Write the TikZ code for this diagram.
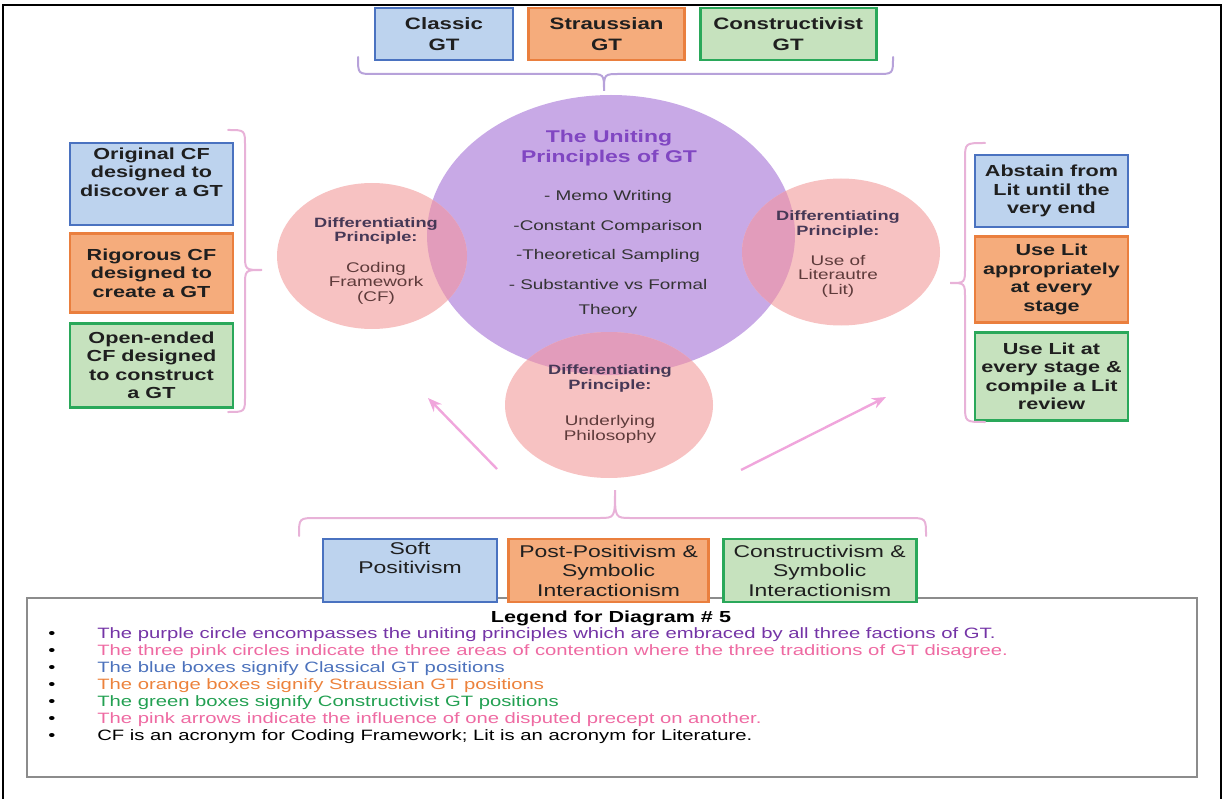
\documentclass[tikz,border=0pt]{standalone}
\usepackage{fontspec}
\setmainfont{Liberation Sans}[FakeStretch=1.35]
\usepackage{tikz}
\usetikzlibrary{shapes,arrows,arrows.meta}
\usetikzlibrary{positioning,calc}

\definecolor{blueFill}{HTML}{BDD3EE}
\definecolor{blueLine}{HTML}{4A72C0}
\definecolor{orangeFill}{HTML}{F5AC7C}
\definecolor{orangeLine}{HTML}{EA7F3E}
\definecolor{greenFill}{HTML}{C6E2BE}
\definecolor{greenLine}{HTML}{2AA85A}
\definecolor{uniteFill}{HTML}{C8A9E6}
\definecolor{diffFill}{HTML}{F7C2C2}
\definecolor{overlapFill}{HTML}{E29CBB}
\definecolor{uniteText}{HTML}{8046C2}
\definecolor{diffHead}{HTML}{463856}
\definecolor{diffText}{HTML}{5E3B3B}
\definecolor{braceTop}{HTML}{B7A2DA}
\definecolor{bracePink}{HTML}{E8B2D8}
\definecolor{arrowPink}{HTML}{F0A6DC}
\definecolor{legPurple}{HTML}{7434A6}
\definecolor{legPink}{HTML}{EE6AA2}
\definecolor{legBlue}{HTML}{4C72BC}
\definecolor{legOrange}{HTML}{EC823C}
\definecolor{legGreen}{HTML}{23A052}

\newcommand{\diffhead}[1]{{\bfseries\fontsize{13.5}{14.5}\selectfont\color{diffHead}#1}}

\begin{document}
\begin{tikzpicture}[x=1pt, y=-1pt, >={Stealth[length=14pt,width=11pt]}, semithick]
\tikzstyle{box}=[draw, line width=2.6pt, inner sep=1pt, align=center, text=black!88]
\tikzstyle{classic}=[fill=blueFill, draw=blueLine]
\tikzstyle{strauss}=[fill=orangeFill, draw=orangeLine]
\tikzstyle{constr}=[fill=greenFill, draw=greenLine]
\tikzstyle{topbox}=[box, minimum height=52, font=\bfseries\fontsize{16.5}{21}\selectfont]
\tikzstyle{sidebox}=[box, minimum width=163, font=\bfseries\fontsize{16}{18.5}\selectfont]
\tikzstyle{basebox}=[box, minimum height=63, font=\fontsize{17}{19.5}\selectfont]
\tikzstyle{unite}=[ellipse, fill=uniteFill, inner sep=0, minimum width=368, minimum height=280]
\tikzstyle{diff}=[ellipse, fill=diffFill, inner sep=0, minimum height=146,
  path picture={\fill[overlapFill] (unite.center) ellipse [x radius=184, y radius=140];}]
\tikzstyle{difftxt}=[align=center, text=diffText, font=\fontsize{14}{14.5}\selectfont]
\tikzstyle{brace}=[line width=2pt, line cap=round]
\tikzstyle{influence}=[->, draw=arrowPink, fill=arrowPink, line width=2.4pt]
\tikzstyle{legline}=[anchor=west, inner sep=0, font=\fontsize{15}{17}\selectfont]

\useasboundingbox (0,0) rectangle (1225,799);
\draw[line width=2.4pt] (3,799) -- (3,5) -- (1221,5) -- (1221,799);

% legend frame (the bottom boxes sit over its top edge)
\draw[draw=black!45, line width=1.4pt] (27,598) rectangle (1197,777);

% the three traditions
\node[topbox, classic, minimum width=138] (classic) at (444,34) {Classic\\GT};
\node[topbox, strauss, minimum width=156, right=13pt of classic] (strauss) {Straussian\\GT};
\node[topbox, constr, minimum width=176, right=13pt of strauss] (constr) {Constructivist\\GT};

% uniting principles and the three differentiating principles
\node[unite] (unite) at (611,235) {};
\node[diff, minimum width=190] (cf) at (372,256) {};
\node[diff, minimum width=198, minimum height=147] (lit) at (841,252) {};
\node[diff, minimum width=208] (phil) at (609,405) {};

\node[align=center, text=uniteText, font=\bfseries\fontsize{17}{20}\selectfont] (uniteHead) at (609,148) {The Uniting\\Principles of GT};
\node[align=center, text=black!80, font=\fontsize{14}{25}\selectfont] (uniteList) at (608,254)
  {- Memo Writing\\[4.5pt]-Constant Comparison\\[4.5pt]-Theoretical Sampling\\[4.5pt]- Substantive vs Formal\\Theory};
\node[difftxt] (cfTxt) at (376,261) {\diffhead{Differentiating}\\\diffhead{Principle:}\\[16pt]Coding\\Framework\\(CF)};
\node[difftxt] (litTxt) at (838,254) {\diffhead{Differentiating}\\\diffhead{Principle:}\\[15.5pt]Use of\\Literautre\\(Lit)};
\node[difftxt] (philTxt) at (610,404) {\diffhead{Differentiating}\\\diffhead{Principle:}\\[22pt]Underlying\\Philosophy};

% coding framework positions
\node[sidebox, classic, minimum height=82] (origCF) at (151.5,184) {Original CF\\designed to\\discover a GT\\\strut};
\node[sidebox, strauss, minimum height=79, below=6pt of origCF] (rigorCF) {Rigorous CF\\designed to\\create a GT};
\node[sidebox, constr, minimum height=84, below=8pt of rigorCF] (openCF) {Open-ended\\CF designed\\to construct\\a GT};

% literature positions
\node[sidebox, classic, minimum width=153, minimum height=72] (abstainLit) at (1051.5,191) {Abstain from\\Lit until the\\very end};
\node[sidebox, strauss, minimum width=153, minimum height=86, below=7pt of abstainLit] (useLit) {Use Lit\\appropriately\\at every\\stage};
\node[sidebox, constr, minimum width=153, minimum height=88, below=7pt of useLit] (reviewLit) {Use Lit at\\every stage \&\\compile a Lit\\review};

% philosophy positions
\node[basebox, classic, minimum width=174] (soft) at (410,570.5) {Soft\\Positivism\\\strut};
\node[basebox, strauss, minimum width=200, right=9pt of soft] (postPos) {Post-Positivism \&\\Symbolic\\Interactionism};
\node[basebox, constr, minimum width=193, right=12pt of postPos] (constrSI) {Constructivism \&\\Symbolic\\Interactionism};

% braces
\draw[brace, braceTop] (358,57) .. controls (358,74) .. (374,74) -- (588,74) .. controls (604,74) .. (604,91)
  .. controls (604,74) .. (620,74) -- (877,74) .. controls (893,74) .. (893,57);
\draw[brace, bracePink] (228,130) .. controls (245,130) .. (245,146) -- (245,254) .. controls (245,270) .. (262,270)
  .. controls (245,270) .. (245,286) -- (245,396) .. controls (245,412) .. (228,412);
\draw[brace, bracePink] (985,143) .. controls (965,143) .. (965,160) -- (965,267) .. controls (965,283) .. (950,283)
  .. controls (965,283) .. (965,299) -- (965,405) .. controls (965,422) .. (985,422);
\draw[brace, bracePink] (299,536) .. controls (299,518) .. (317,518) -- (599,518) .. controls (615,518) .. (615,490)
  .. controls (615,518) .. (631,518) -- (908,518) .. controls (926,518) .. (926,536);

% influence arrows
\coordinate (philL) at (497,469);
\coordinate (cfArr) at (428,398);
\coordinate (philR) at (741,470);
\coordinate (litArr) at (886,397);
\draw[influence] (philL) -- (cfArr);
\draw[influence] (philR) -- (litArr);

% legend
\node[font=\bfseries\fontsize{16}{18}\selectfont] (legTitle) at (611,618) {Legend for Diagram \# 5};
\foreach \col/\txt [count=\i] in {
  legPurple/{The purple circle encompasses the uniting principles which are embraced by all three factions of GT.},
  legPink/{The three pink circles indicate the three areas of contention where the three traditions of GT disagree.},
  legBlue/{The blue boxes signify Classical GT positions},
  legOrange/{The orange boxes signify Straussian GT positions},
  legGreen/{The green boxes signify Constructivist GT positions},
  legPink/{The pink arrows indicate the influence of one disputed precept on another.},
  black/{CF is an acronym for Coding Framework; Lit is an acronym for Literature.}}
{
  \node[legline] (bullet\i) at (48,{618+17*\i}) {\textbullet};
  \node[legline, text=\col] (item\i) at (97,{618+17*\i}) {\txt};
}
\end{tikzpicture}
\end{document}
